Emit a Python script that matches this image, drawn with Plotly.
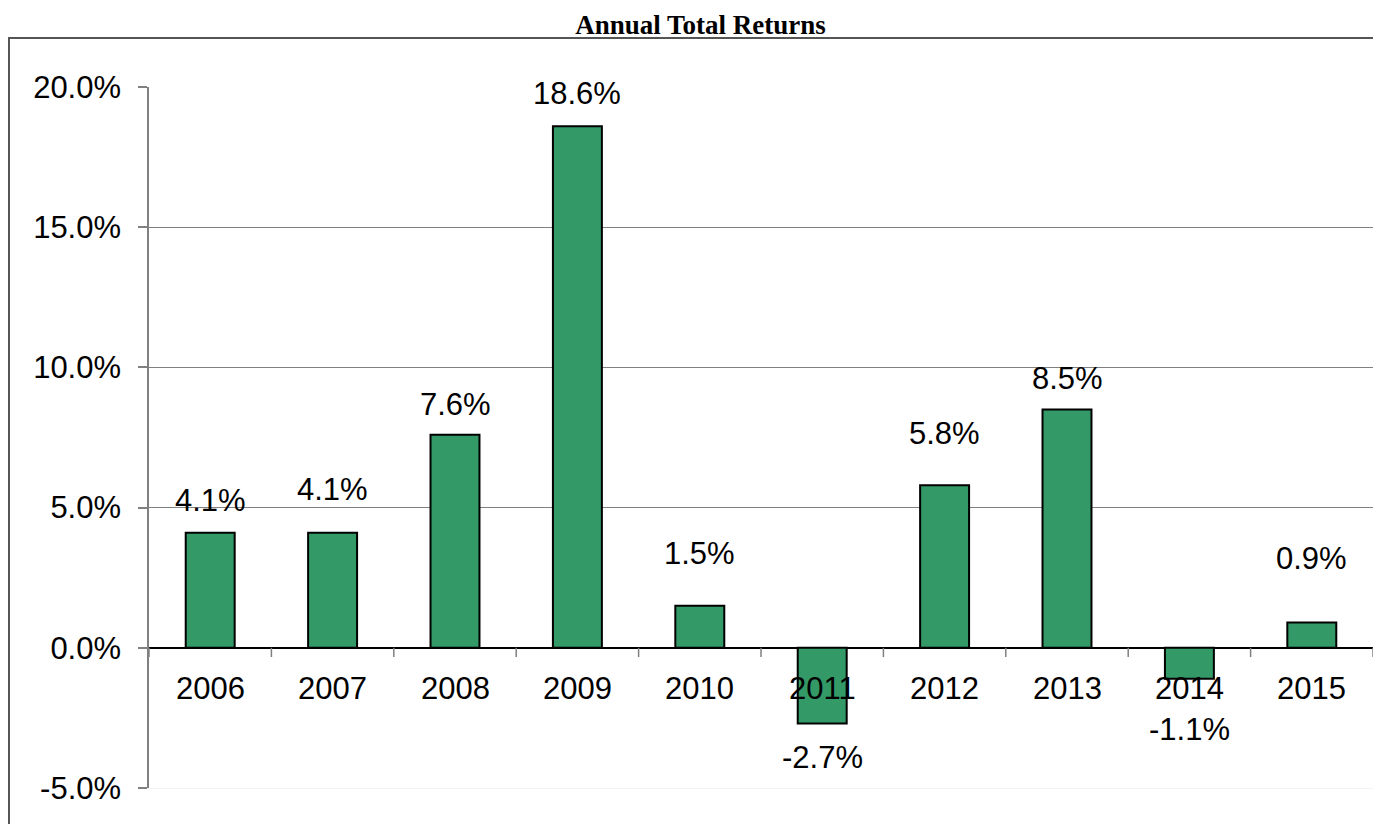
import plotly.graph_objects as go

# Annual total returns, in percent.
YEARS = ["2006", "2007", "2008", "2009", "2010", "2011", "2012", "2013", "2014", "2015"]
RETURNS = [4.1, 4.1, 7.6, 18.6, 1.5, -2.7, 5.8, 8.5, -1.1, 0.9]
Y_TICKS = [-5, 0, 5, 10, 15, 20]
Y_TICK_TEXT = [f"{v:.1f}%" for v in Y_TICKS]

# Gap in px between each bar end and its value label (labels sit at uneven heights).
LABEL_GAP = [20, 31, 18, 20, 40, 21, 39, 18, 38, 52]

BAR_COLOR = "#339966"
FONT = "Liberation Sans, Arial, sans-serif"

# The page body has an 8px default margin, so the figure is drawn 8px smaller.
W, H = 1373, 816

fig = go.Figure()
fig.add_trace(
    go.Bar(
        x=YEARS,
        y=RETURNS,
        width=0.4,
        marker=dict(color=BAR_COLOR, line=dict(color="black", width=2)),
        hoverinfo="x+y",
        showlegend=False,
    )
)

annotations = []
# Value labels above/below each bar (category axis -> use the index position).
for i, (val, gap) in enumerate(zip(RETURNS, LABEL_GAP)):
    pos = val >= 0
    annotations.append(
        dict(
            x=i,
            y=val,
            xref="x",
            yref="y",
            text=f"{val:.1f}%",
            showarrow=False,
            yanchor="bottom" if pos else "top",
            yshift=(gap - 7) if pos else -(gap - 7),
            font=dict(family=FONT, size=31, color="black"),
        )
    )
# Category labels hang just under the zero line.
for i, year in enumerate(YEARS):
    annotations.append(
        dict(
            x=i,
            y=0,
            xref="x",
            yref="y",
            text=year,
            showarrow=False,
            yanchor="top",
            yshift=-21,
            font=dict(family=FONT, size=31, color="black"),
        )
    )

shapes = []
# Tick marks between categories, below the zero line.
for i in range(len(YEARS) + 1):
    shapes.append(
        dict(
            type="line",
            xref="x",
            yref="y",
            x0=i - 0.5,
            x1=i - 0.5,
            y0=-0.33,
            y1=0,
            line=dict(color="#808080", width=1.5),
        )
    )
# Outer chart frame (partly clipped by the page edge).
shapes.append(
    dict(
        type="rect",
        xref="paper",
        yref="paper",
        x0=-0.1144,
        x1=1.2,
        y0=-0.3,
        y1=1.0699,
        line=dict(color="#555555", width=2),
        fillcolor="rgba(0,0,0,0)",
        layer="below",
    )
)

fig.update_layout(
    width=W,
    height=H,
    margin=dict(l=141, r=8, t=79, b=36),
    paper_bgcolor="white",
    plot_bgcolor="white",
    font=dict(family=FONT, size=31, color="black"),
    title=dict(
        text="<b>Annual Total Returns</b>",
        font=dict(family="Liberation Serif, Times New Roman, serif", size=27, color="black"),
        x=0.4506,
        xref="paper",
        xanchor="center",
        y=1 - 17 / H,
        yanchor="middle",
    ),
    annotations=annotations,
    shapes=shapes,
    xaxis=dict(
        type="category",
        range=[-0.5, len(YEARS) - 0.5],
        showticklabels=False,
        ticks="",
        showgrid=False,
        zeroline=False,
        showline=True,
        linecolor="#f2f2f2",
        linewidth=1,
        fixedrange=True,
    ),
    yaxis=dict(
        range=[-5, 20],
        tickvals=Y_TICKS,
        ticktext=Y_TICK_TEXT,
        ticks="outside",
        ticklen=9,
        tickcolor="#808080",
        tickwidth=1.5,
        ticklabelstandoff=11,
        showline=True,
        linecolor="#808080",
        linewidth=1.5,
        showgrid=True,
        gridcolor="#808080",
        gridwidth=1,
        zeroline=True,
        zerolinecolor="black",
        zerolinewidth=1.5,
        tickfont=dict(family=FONT, size=31, color="black"),
        fixedrange=True,
    ),
)

fig.write_html("out.html")
